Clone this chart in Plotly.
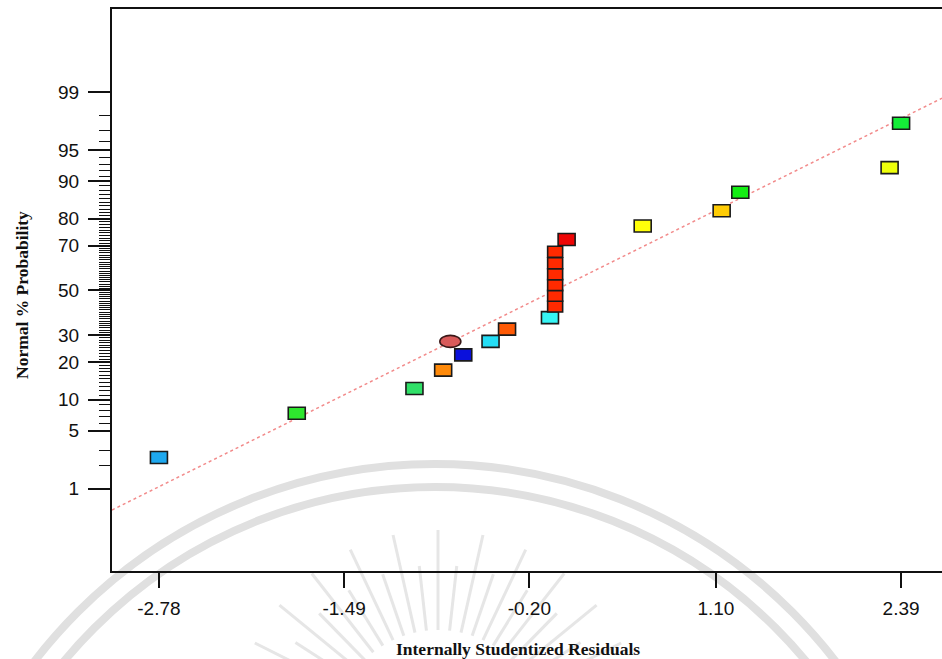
import numpy as np
import plotly.graph_objects as go
from statistics import NormalDist

nd = NormalDist()

# ---- data -------------------------------------------------------------
# internally studentized residuals of the runs and their normal plotting positions (%)
residuals = [-2.78, -1.82, -1.00, -0.80, -0.66, -0.47, -0.355, -0.056,
             -0.02, -0.02, -0.02, -0.02, -0.02, -0.02,
             0.06, 0.59, 1.14, 1.27, 2.31, 2.39]
probability = [2.5, 7.5, 12.5, 17.5, 22.5, 27.5, 32.5, 37.5,
               42.5, 47.5, 52.5, 57.5, 62.5, 67.5,
               72.5, 77.5, 82.5, 87.5, 92.5, 97.5]
# run colours (response-value colour scale)
point_colors = ["#1ea8ef", "#2ee62e", "#30e068", "#ff8a0a", "#0a10dc", "#24def6",
                "#ff5a05", "#36f4f4",
                "#ff2a00", "#ff2a00", "#ff2a00", "#ff2a00", "#ff2a00", "#ff2a00",
                "#ee0505", "#ffff0a", "#ffcc05", "#14ee14", "#eeff0a", "#14ee38"]

# highlighted run
highlight_residual = [-0.75]
highlight_probability = [27.5]

# fitted normal line (in z units)
fit_slope = 0.835
fit_intercept = 0.02

x_ticks = [-2.78, -1.49, -0.20, 1.10, 2.39]
x_ticklabels = ["-2.78", "-1.49", "-0.20", "1.10", "2.39"]
y_ticks = [1, 5, 10, 20, 30, 50, 70, 80, 90, 95, 99]
y_minor = [2, 3] + list(range(6, 10)) + list(range(11, 20)) + list(range(21, 30)) + \
          list(range(31, 50)) + list(range(51, 70)) + list(range(71, 80)) + \
          list(range(81, 90)) + list(range(91, 95)) + list(range(96, 99))

x_range = [-3.107, 2.675]
y_range = [-3.29, 3.30]


def z(p):
    return nd.inv_cdf(p / 100.0)


# ---- figure -----------------------------------------------------------
W, H = 942, 659
ML, MR, MT, MB = 112, 0, 9, 88
PW, PH = W - ML - MR, H - MT - MB

fig = go.Figure()

# fitted line
xl = np.array(x_range)
fig.add_trace(go.Scatter(
    x=xl, y=fit_slope * xl + fit_intercept, mode="lines",
    line=dict(color="#f28a8a", width=1.5, dash="dot"),
    hoverinfo="skip", showlegend=False))

# residual points (hover layer; boxes are drawn as pixel-sized shapes)
zy = [z(p) for p in probability]
fig.add_trace(go.Scatter(
    x=residuals, y=zy, mode="markers",
    marker=dict(size=14, color="rgba(0,0,0,0)"),
    text=[f"{p}%" for p in probability],
    hovertemplate="%{x}<br>%{text}<extra></extra>", showlegend=False))

shapes = []

# faint seal watermark behind the chart: two rings and a fan of rays
def px_to_paper(px, py):
    return (px - ML) / PW, (H - MB - py) / PH

ring_cx, ring_cy = 435, 969
for r in (505, 482):
    x0, y0 = px_to_paper(ring_cx - r, ring_cy + r)
    x1, y1 = px_to_paper(ring_cx + r, ring_cy - r)
    shapes.append(dict(type="circle", xref="paper", yref="paper",
                       x0=x0, x1=x1, y0=y0, y1=y1, layer="below",
                       line=dict(color="#e0e0e0", width=8)))

ray_cx, ray_cy = 438, 735
n_rays = 25
for i in range(n_rays):
    ang = np.deg2rad(14 + i * (152 / (n_rays - 1)))
    r_in = 105
    r_out = 205 if i % 2 == 0 else 170
    ax0, ay0 = px_to_paper(ray_cx + r_in * np.cos(ang), ray_cy - r_in * np.sin(ang))
    ax1, ay1 = px_to_paper(ray_cx + r_out * np.cos(ang), ray_cy - r_out * np.sin(ang))
    shapes.append(dict(type="line", xref="paper", yref="paper",
                       x0=ax0, y0=ay0, x1=ax1, y1=ay1, layer="below",
                       line=dict(color="#e6e6e6", width=3)))

# run boxes; stacked runs (same residual) are drawn slightly narrower
for xv, yv, col in zip(residuals, zy, point_colors):
    stacked = residuals.count(xv) > 1
    w = 15 if stacked else 17
    h = 11 if stacked else 12
    shapes.append(dict(type="rect", xref="x", yref="y",
                       xsizemode="pixel", ysizemode="pixel",
                       xanchor=xv, yanchor=yv,
                       x0=-w / 2, x1=w / 2, y0=-h / 2, y1=h / 2,
                       fillcolor=col, line=dict(color="#1a1a1a", width=1.6)))

# highlighted run (ellipse)
for xv, pv in zip(highlight_residual, highlight_probability):
    shapes.append(dict(type="circle", xref="x", yref="y",
                       xsizemode="pixel", ysizemode="pixel",
                       xanchor=xv, yanchor=z(pv),
                       x0=-10.5, x1=10.5, y0=-6, y1=6,
                       fillcolor="#d95a5a", line=dict(color="#3a1818", width=1.6)))

axis_font = dict(family="Liberation Sans, Arial, sans-serif", size=19, color="#111111")
title_font = dict(family="Liberation Serif, Times New Roman, serif", size=17.5, color="#111111")

fig.update_layout(
    width=W, height=H, autosize=False,
    margin=dict(l=ML, r=MR, t=MT, b=MB, pad=0),
    paper_bgcolor="white", plot_bgcolor="rgba(0,0,0,0)",
    shapes=shapes,
    xaxis=dict(range=x_range, tickvals=x_ticks, ticktext=x_ticklabels,
               ticks="outside", ticklen=15, tickwidth=1.6, tickcolor="#111111",
               showline=True, linewidth=2, linecolor="#111111", mirror=True,
               showgrid=False, zeroline=False, tickfont=axis_font,
               ticklabelstandoff=4),
    yaxis=dict(range=y_range, tickvals=[z(p) for p in y_ticks],
               ticktext=[str(p) for p in y_ticks],
               ticks="outside", ticklen=22, tickwidth=1.6, tickcolor="#111111",
               minor=dict(tickvals=[z(p) for p in y_minor], ticks="outside",
                          ticklen=11, tickwidth=1.4, tickcolor="#111111"),
               showline=True, linewidth=2, linecolor="#111111", mirror=False,
               showgrid=False, zeroline=False, tickfont=axis_font,
               ticklabelstandoff=5),
    annotations=[
        dict(text="<b>Internally Studentized Residuals</b>", xref="paper", yref="paper",
             x=(518 - ML) / PW, y=(H - MB - 649) / PH, xanchor="center", yanchor="middle",
             showarrow=False, font=title_font),
        dict(text="<b>Normal % Probability</b>", xref="paper", yref="paper",
             x=(22 - ML) / PW, y=(H - MB - 295) / PH, xanchor="center", yanchor="middle",
             textangle=-90, showarrow=False, font=title_font),
    ],
)

fig.write_html("out.html")
